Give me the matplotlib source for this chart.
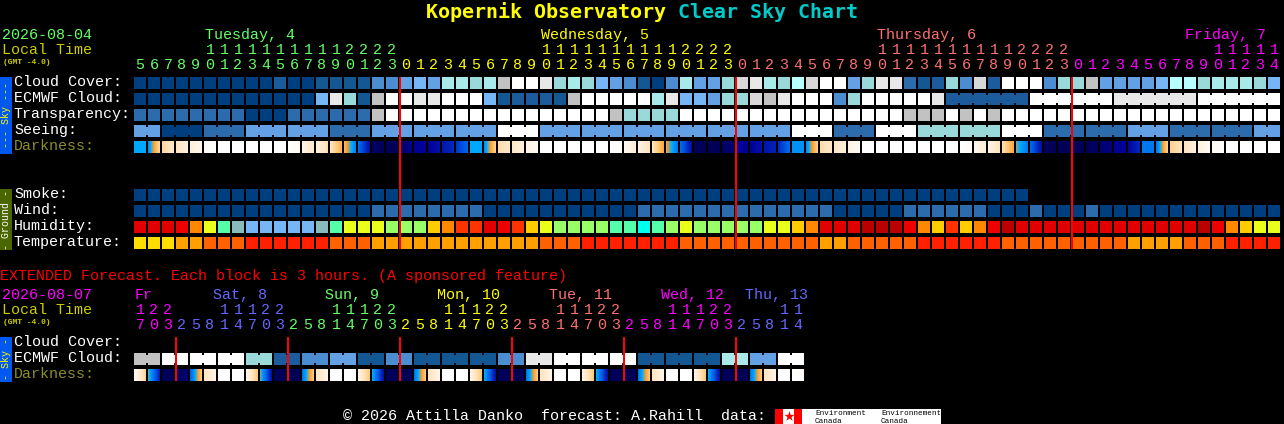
import numpy as np
import matplotlib
matplotlib.use("Agg")
import matplotlib.pyplot as plt
from matplotlib.colors import LinearSegmentedColormap

# palette shared by cloud / transparency / seeing / wind / smoke rows
block_colors = ['#003f7f', '#135793', '#1c5c9c', '#2c6cac', '#4c8cd0', '#63a0e4', '#76b6f4',
                '#99d9d9', '#a8eaea', '#b8ffff', '#c2c2c2', '#d8d8d8', '#e8e8e8', '#ffffff']

cloud = [0, 0, 0, 0, 0, 0, 0, 0, 0, 0, 2, 0, 0, 1, 1, 1, 1, 4, 4, 5, 6,
         5, 8, 8, 7, 8, 10, 13, 13, 12, 7, 8, 7, 6, 5, 4, 1, 0, 4, 8, 5, 5, 7,
         11, 12, 8, 7, 9, 11, 13, 13, 5, 7, 12, 12, 3, 1, 2, 7, 4, 11, 2, 13, 13, 13,
         4, 7, 7, 10, 5, 5, 5, 5, 6, 9, 9, 7, 8, 8, 8, 7, 6]
ecmwf = [0, 0, 0, 0, 0, 0, 0, 0, 0, 0, 0, 0, 0, 6, 12, 7, 1, 10, 13, 13, 12,
         12, 13, 13, 13, 6, 1, 2, 2, 2, 1, 10, 13, 13, 13, 13, 13, 8, 12, 6, 6, 5, 7,
         7, 11, 10, 12, 13, 13, 13, 4, 7, 13, 13, 13, 13, 13, 12, 2, 2, 2, 2, 2, 2,
         13, 13, 13, 13, 13, 13, 12, 12, 12, 12, 12, 12, 13, 13, 13, 13, 13, 13]
transparency = [3, 3, 3, 3, 3, 3, 3, 3, 0, 0, 0, 3, 3, 3, 3, 3, 3, 10, 13, 13, 13,
                13, 13, 13, 13, 13, 13, 13, 13, 13, 13, 13, 13, 13, 10, 7, 7, 7, 7, 13, 13, 13, 13,
                13, 13, 13, 13, 13, 13, 13, 13, 13, 13, 13, 13, 10, 10, 10, 13, 10, 13, 10, 13, 13, 13,
                13, 13, 13, 13, 13, 13, 13, 13, 13, 13, 13, 13, 13, 13, 13, 13, 13]
seeing = [5, 5, 0, 0, 0, 3, 3, 3, 5, 5, 5, 5, 5, 5, 3, 3, 3, 5, 5, 5, 5,
          5, 5, 5, 5, 5, 13, 13, 13, 5, 5, 5, 5, 5, 5, 5, 5, 5, 5, 5, 5, 5, 5,
          5, 5, 5, 5, 13, 13, 13, 3, 3, 3, 13, 13, 13, 7, 7, 7, 7, 7, 7, 13, 13, 13,
          3, 3, 3, 3, 3, 3, 5, 5, 5, 3, 3, 3, 3, 3, 3, 5, 5]
smoke = [0, 0, 0, 0, 0, 0, 0, 0, 0, 0, 0, 0, 0, 0, 0, 0, 0, 0, 0, 0, 0,
         0, 0, 0, 0, 0, 0, 0, 0, 0, 0, 0, 0, 0, 0, 0, 0, 0, 0, 0, 0, 0, 0,
         0, 0, 0, 0, 0, 0, 0, 0, 0, 0, 0, 0, 0, 0, 0, 0, 0, 0, 0, 0, 0]
wind = [0, 0, 0, 0, 0, 0, 0, 0, 0, 0, 0, 0, 0, 0, 0, 0, 0, 3, 3, 3, 3,
        3, 3, 3, 3, 0, 0, 0, 0, 0, 0, 0, 0, 0, 0, 0, 3, 3, 3, 3, 3, 3, 3,
        3, 3, 3, 3, 3, 3, 3, 0, 0, 0, 0, 0, 3, 3, 3, 3, 3, 3, 0, 0, 0, 3,
        0, 0, 0, 3, 0, 0, 0, 0, 0, 0, 0, 0, 0, 0, 0, 0, 0]
humidity = ['#e00000', '#e00000', '#e00000', '#ee0000', '#ff8800', '#eaff1a', '#55ffaa', '#88bbbb',
            '#76b6f4', '#76b6f4', '#76b6f4', '#76b6f4', '#76b6f4', '#88bbbb', '#55ffaa', '#eaff1a',
            '#eaff1a', '#eaff1a', '#99ff66', '#99ff66', '#99ff66', '#ffcc00', '#ff8800', '#ff3300',
            '#ff3300', '#e00000', '#ee0000', '#ff3300', '#ffcc00', '#eaff1a', '#99ff66', '#99ff66',
            '#99ff66', '#99ff66', '#55ffaa', '#55ffaa', '#00ffee', '#55ffaa', '#99ff66', '#eaff1a',
            '#99ff66', '#99ff66', '#99ff66', '#99ff66', '#99ff66', '#eaff1a', '#eaff1a', '#ffcc00',
            '#ff8800', '#e00000', '#e00000', '#e00000', '#bb0000', '#bb0000', '#bb0000', '#ee0000',
            '#ff8800', '#ffcc00', '#ff3300', '#ffcc00', '#ff8800', '#ee0000', '#bb0000', '#e00000',
            '#e00000', '#e00000', '#e00000', '#e00000', '#e00000', '#e00000', '#e00000', '#e00000',
            '#e00000', '#e00000', '#e00000', '#e00000', '#bb0000', '#ee0000', '#ff8800', '#ffcc00',
            '#eaff1a', '#eaff1a']
temperature = ['#ffdd00', '#ffdd00', '#ffdd00', '#ff9f00', '#ff9f00', '#ff6000', '#ff6000', '#ff6000',
               '#ff2000', '#ff2000', '#ff2000', '#ff2000', '#ff2000', '#ff2000', '#ff6000', '#ff6000',
               '#ff6000', '#ff9f00', '#ff9f00', '#ff9f00', '#ff9f00', '#ff9f00', '#ff9f00', '#ff9f00',
               '#ff9f00', '#ff9f00', '#ff9f00', '#ff9f00', '#ff9f00', '#ff6000', '#ff6000', '#ff6000',
               '#ff2000', '#ff2000', '#ff2000', '#ff2000', '#ff2000', '#ff2000', '#ff2000', '#ff6000',
               '#ff6000', '#ff6000', '#ff6000', '#ff6000', '#ff6000', '#ff6000', '#ff6000', '#ff6000',
               '#ff6000', '#ff9f00', '#ff9f00', '#ff6000', '#ff6000', '#ff6000', '#ff6000', '#ff6000',
               '#ff2000', '#ff2000', '#ff2000', '#ff2000', '#ff2000', '#ff2000', '#ff6000', '#ff6000',
               '#ff6000', '#ff6000', '#ff6000', '#ff6000', '#ff6000', '#ff6000', '#ff6000', '#ff9f00',
               '#ff9f00', '#ff9f00', '#ff9f00', '#ff6000', '#ff6000', '#ff6000', '#ff2000', '#ff2000',
               '#ff2000', '#ff2000']

# darkness level at the left and right edge of each block, 0 = daylight, 10 = darkest
dark_left = [5, 5.5, 2.5, 2, 1.3, 0.3, 0, 0, 0, 0, 0, 0, 1, 1.2, 2, 3.5, 6.3, 9.8, 10, 10, 9,
             9, 8.3, 7.5, 5, 5.5, 2.3, 1.8, 1, 0, 0, 0, 0, 0, 0, 0.5, 1, 2, 4, 6.3, 10, 10, 9.8,
             9, 9, 8.3, 7.8, 5.5, 5.5, 2.3, 1.8, 1, 0, 0, 0, 0, 0, 0, 0, 0, 0.8, 1, 2.2, 4.5, 6.3,
             10, 10, 10, 10, 9.6, 9, 8.8, 6, 6, 2.7, 2, 1.3, 0.4, 0, 0, 0, 0]
dark_right = [5, 2.5, 1.7, 1.2, 0.8, 0, 0, 0, 0, 0, 0, 0.6, 1.7, 2.2, 3.6, 5.8, 8.5, 10, 10, 9, 9,
              8.5, 7.8, 6.5, 5, 2.7, 1.8, 1.2, 0.5, 0, 0, 0, 0, 0, 0.3, 1.5, 2, 3.8, 6, 8.5, 10, 10, 9.6,
              9, 8.5, 8, 6.3, 5.5, 2.7, 1.8, 1.2, 0.5, 0, 0, 0, 0, 0, 0, 0, 0.5, 1.5, 2, 3.8, 6, 8.5,
              10, 10, 10, 9.8, 9.4, 9, 7.8, 6, 2.7, 2, 1.3, 0.5, 0, 0, 0, 0, 0]
dark_stops = ['#ffffff', '#fff4e4', '#ffe4c0', '#ffc878', '#ffa030', '#00a8ff',
              '#0078f0', '#0050e0', '#0020b8', '#000098', '#000058']

# extended forecast, one block per 3 hours
ext_ecmwf = [10, 10, 13, 13, 13, 13, 13, 13, 7, 7, 2, 2, 4, 4, 5, 5, 1, 1, 4, 4, 1, 1, 1, 1,
             1, 1, 4, 4, 12, 12, 13, 13, 13, 13, 13, 13, 1, 1, 1, 1, 1, 1, 8, 8, 5, 5, 13, 13]
ext_dark_left = [0.5, 4.6, 10, 10, 6.5, 2, 0, 0, 0.8, 4.5, 10, 10, 6, 2, 0, 0, 1, 5, 10, 10, 6, 2, 0, 0,
                 1, 5, 10, 10, 6, 2, 0, 0, 1, 5, 10, 10, 6, 2, 0, 0, 1, 5, 10, 10, 6, 2, 0, 0]
ext_dark_right = [2.6, 8, 10, 9.5, 3, 1, 0, 0, 3, 8.5, 10, 10, 3, 1, 0, 0, 3, 8.5, 10, 10, 3, 1, 0, 0,
                  3, 8.5, 10, 10, 3, 1, 0, 0, 3, 8.5, 10, 10, 3, 1, 0, 0, 3, 8.5, 10, 10, 3, 1, 0, 0.3]

# hour of each column and where each day starts
hours = [5, 6, 7, 8, 9, 10, 11, 12, 13, 14, 15, 16, 17, 18, 19, 20, 21, 22, 23,
         0, 1, 2, 3, 4, 5, 6, 7, 8, 9, 10, 11, 12, 13, 14, 15, 16, 17, 18, 19, 20, 21, 22, 23,
         0, 1, 2, 3, 4, 5, 6, 7, 8, 9, 10, 11, 12, 13, 14, 15, 16, 17, 18, 19, 20, 21, 22, 23,
         0, 1, 2, 3, 4, 5, 6, 7, 8, 9, 10, 11, 12, 13, 14]
ext_hours = [17, 20, 23, 2, 5, 8, 11, 14, 17, 20, 23, 2, 5, 8, 11, 14, 17, 20, 23, 2, 5, 8, 11, 14,
             17, 20, 23, 2, 5, 8, 11, 14, 17, 20, 23, 2, 5, 8, 11, 14, 17, 20, 23, 2, 5, 8, 11, 14]
day_names = ['Tuesday, 4', 'Wednesday, 5', 'Thursday, 6', 'Friday, 7']
day_label_col = [5, 29, 53, 75]
day_first_col = [0, 19, 43, 67]
day_colors = ['#66ff66', '#ffff00', '#ff7070', '#ff00ff']
ext_day_names = ['Fr', 'Sat, 8', 'Sun, 9', 'Mon, 10', 'Tue, 11', 'Wed, 12', 'Thu, 13']
ext_day_label_x = [135, 213, 325, 437, 549, 661, 745]
ext_day_first_col = [0, 3, 11, 19, 27, 35, 43]
ext_day_colors = ['#ff00ff', '#6666ff', '#66ff66', '#ffff00', '#ff7070', '#ff00ff', '#6666ff']

X0 = 134
STEP = 14
CELL = 12
MONO = 'Liberation Mono'


def px(size):
    return size * 72 / 100


def col_x(i):
    return X0 + STEP * np.asarray(i)


def fill(ax, x, top, width, height, color, zorder=2):
    ax.bar(x, height, width, bottom=top, color=color, align='edge',
           linewidth=0, snap=False, zorder=zorder)


def draw_blocks(ax, top, colors):
    fill(ax, col_x(np.arange(len(colors))), top, CELL, CELL, colors)


def draw_bridges(ax, top, colors, joins):
    # joined blocks have a neck across the gap
    gaps = [i for i in joins if i + 1 < len(colors)]
    fill(ax, col_x(gaps) + CELL, top + 2, STEP - CELL, CELL - 4, [colors[i] for i in gaps])


def draw_dark(ax, top, left, right, cmap):
    for i in range(len(left)):
        strip = np.linspace(left[i], right[i], CELL)[np.newaxis, :]
        x = col_x(i)
        ax.imshow(strip, cmap=cmap, vmin=0, vmax=10, extent=(x, x + CELL, top + CELL, top),
                  interpolation='nearest', aspect='auto', zorder=2)


def label(ax, x, y, s, color='white', size=15, family=MONO, **kw):
    ax.text(x, y - 1, s, color=color, fontsize=px(size), family=family, va='baseline', **kw)


def draw_hours(ax, hrs, first_cols, colors, ten_y, unit_y):
    for i, h in enumerate(hrs):
        day = sum(1 for c in first_cols if c <= i) - 1
        x = col_x(i) + CELL / 2
        if h >= 10:
            label(ax, x, ten_y, str(h // 10), colors[day], ha='center')
        label(ax, x, unit_y, str(h % 10), colors[day], ha='center')


def side_bar(ax, top, bottom, face, text, color):
    fill(ax, 0, top, 12, bottom - top, face, zorder=1)
    ax.text(6, (top + bottom) / 2, text, color=color, fontsize=px(10), family=MONO,
            rotation=90, ha='center', va='center', clip_on=True)


def main():
    fig = plt.figure(figsize=(12.84, 4.24), dpi=100, facecolor='black')
    ax = fig.add_axes([0, 0, 1, 1])
    ax.set_facecolor('black')
    dark_cmap = LinearSegmentedColormap.from_list('dark', dark_stops, N=512)

    # title
    label(ax, 426, 19, 'Kopernik Observatory', '#ffff00', size=20, family='DejaVu Sans Mono', fontweight='bold')
    label(ax, 678, 19, 'Clear Sky Chart', '#00cccc', size=20, family='DejaVu Sans Mono', fontweight='bold')

    # main header
    label(ax, 2, 40, '2026-08-04', '#66ff66')
    label(ax, 2, 55, 'Local Time', '#cccc00')
    label(ax, 3, 65, '(GMT -4.0)', '#cccc00', size=8, fontweight='bold')
    for name, col, color in zip(day_names, day_label_col, day_colors):
        label(ax, col_x(col) + 1, 40, name, color)
    draw_hours(ax, hours, day_first_col, day_colors, 55, 70)

    # sky rows
    cloud_c = [block_colors[v] for v in cloud]
    ecmwf_c = [block_colors[v] for v in ecmwf]
    transparency_c = [block_colors[v] for v in transparency]
    seeing_c = [block_colors[v] for v in seeing]
    draw_blocks(ax, 77, cloud_c)
    draw_blocks(ax, 93, ecmwf_c)
    draw_bridges(ax, 93, ecmwf_c, [i for i in range(58, 81) if (i - 58) % 6 != 5])
    draw_blocks(ax, 109, transparency_c)
    draw_blocks(ax, 125, seeing_c)
    draw_bridges(ax, 125, seeing_c, [0] + [i for i in range(2, 81) if (i - 2) % 3 != 2])
    draw_dark(ax, 141, dark_left, dark_right, dark_cmap)

    # ground rows
    draw_blocks(ax, 189, [block_colors[v] for v in smoke])
    draw_blocks(ax, 205, [block_colors[v] for v in wind])
    draw_blocks(ax, 221, humidity)
    draw_blocks(ax, 237, temperature)

    row_labels = ['Cloud Cover:', 'ECMWF Cloud:', 'Transparency:', 'Seeing:', 'Darkness:',
                  'Smoke:', 'Wind:', 'Humidity:', 'Temperature:']
    row_base = [87, 103, 119, 135, 151, 199, 215, 231, 247]
    row_color = ['white', 'white', 'white', 'white', '#8c8c28', 'white', 'white', 'white', 'white']
    for s, y, c in zip(row_labels, row_base, row_color):
        label(ax, 14, y, s, c)

    side_bar(ax, 77, 154, '#0058ee', '--- Sky ---', '#ffff00')
    side_bar(ax, 189, 250, '#4a6600', '- Ground -', 'white')

    # midnight lines
    for col in day_first_col[1:]:
        fill(ax, col_x(col) - 1, 77, 2, 172, '#ff0000', zorder=3)

    # extended forecast
    label(ax, 0, 281, 'EXTENDED Forecast. Each block is 3 hours. (A sponsored feature)', '#ff0000')
    label(ax, 2, 300, '2026-08-07', '#ff00ff')
    label(ax, 2, 315, 'Local Time', '#cccc00')
    label(ax, 3, 325, '(GMT -4.0)', '#cccc00', size=8, fontweight='bold')
    for name, x, color in zip(ext_day_names, ext_day_label_x, ext_day_colors):
        label(ax, x, 300, name, color)
    draw_hours(ax, ext_hours, ext_day_first_col, ext_day_colors, 315, 330)

    ext_c = [block_colors[v] for v in ext_ecmwf]
    draw_blocks(ax, 353, ext_c)
    draw_bridges(ax, 353, ext_c, list(range(0, 47, 2)))
    draw_dark(ax, 369, ext_dark_left, ext_dark_right, dark_cmap)

    label(ax, 14, 347, 'Cloud Cover:')
    label(ax, 14, 363, 'ECMWF Cloud:')
    label(ax, 14, 379, 'Darkness:', '#8c8c28')
    side_bar(ax, 337, 382, '#0058ee', '- Sky -', '#ffff00')

    for col in ext_day_first_col[1:]:
        fill(ax, col_x(col) - 1, 337, 2, 44, '#ff0000', zorder=3)

    # footer and data credit
    label(ax, 343, 421, '\u00a9 2026 Attilla Danko  forecast: A.Rahill  data:')
    fill(ax, 775, 409, 166, 15, 'white')
    fill(ax, 775, 409, 8, 15, '#ff0000')
    fill(ax, 794, 409, 8, 15, '#ff0000')
    ax.scatter([788.5], [416], marker='*', s=60, color='#ff0000', linewidths=0, zorder=3)
    for x, name in zip([815, 881], ['Environment', 'Environnement']):
        label(ax, x, 416, name, 'black', size=7.6, zorder=3)
        label(ax, x, 424, 'Canada', 'black', size=7.6, zorder=3)

    ax.set_xlim(0, 1284)
    ax.set_ylim(424, 0)
    ax.axis('off')
    fig.savefig('out.png', dpi=100, facecolor='black')


if __name__ == "__main__":
    main()
